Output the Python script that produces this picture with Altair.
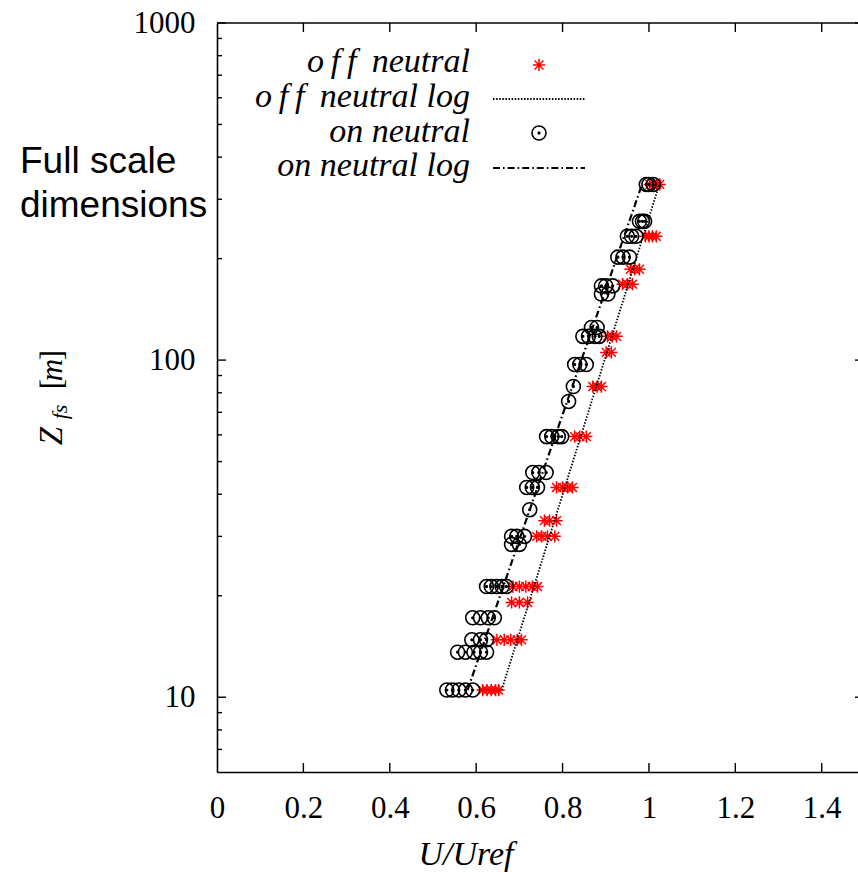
import altair as alt
import pandas as pd

# ---------------- data ----------------
off_heights = [332, 233, 186, 168, 117.6, 105.4, 83.5, 59.3, 41.9, 33.4, 30.0, 21.3, 19.1, 14.8, 10.5]
off_values = [
    [1.002, 1.010, 1.018, 1.025],
    [0.992, 1.000, 1.008, 1.017],
    [0.957, 0.967, 0.978],
    [0.939, 0.950, 0.962],
    [0.904, 0.915, 0.925],
    [0.901, 0.913],
    [0.870, 0.880, 0.890],
    [0.828, 0.840, 0.855],
    [0.786, 0.800, 0.812, 0.823],
    [0.758, 0.770, 0.786],
    [0.740, 0.752, 0.765, 0.782],
    [0.685, 0.700, 0.715, 0.730, 0.742],
    [0.682, 0.700, 0.719],
    [0.648, 0.665, 0.680, 0.695, 0.705],
    [0.615, 0.625, 0.635, 0.645, 0.652],
]

on_heights = [332, 258, 233, 202, 166, 157, 125, 117.6, 97, 83.5, 75.4, 59.3, 46.4, 41.9,
              36.0, 30.0, 28.4, 21.3, 17.2, 14.8, 13.6, 10.5]
on_values = [
    [0.994, 1.000, 1.010],
    [0.978, 0.985, 0.990],
    [0.950, 0.960, 0.970],
    [0.928, 0.940, 0.955],
    [0.890, 0.900, 0.916],
    [0.890, 0.905],
    [0.867, 0.880],
    [0.847, 0.860, 0.875, 0.885],
    [0.828, 0.840, 0.855],
    [0.825],
    [0.814],
    [0.763, 0.775, 0.790, 0.798],
    [0.731, 0.745, 0.762],
    [0.717, 0.730, 0.742],
    [0.724],
    [0.682, 0.694, 0.712],
    [0.682, 0.700],
    [0.624, 0.635, 0.648, 0.660, 0.670],
    [0.592, 0.610, 0.628, 0.642],
    [0.590, 0.610, 0.624],
    [0.557, 0.575, 0.595, 0.610, 0.624],
    [0.532, 0.545, 0.560, 0.575, 0.592],
]

off_log_u = [0.659, 1.024]
off_log_z = [10.5, 332]
on_log_u = [0.580, 0.984]
on_log_z = [10.5, 332]

x_tick_values = [0, 0.2, 0.4, 0.6, 0.8, 1, 1.2, 1.4]
y_label_values = [10, 100, 1000]
y_major_ticks = [10, 100, 1000]
y_minor_ticks = [7, 8, 9, 20, 30, 40, 50, 60, 70, 80, 90, 200, 300, 400, 500, 600, 700, 800, 900]

legend_labels = ["o\u2009f\u2009f\u2009 neutral", "o\u2009f\u2009f\u2009 neutral log",
                 "on neutral", "on neutral log"]
side_text = ["Full scale", "dimensions"]

# ---------------- build tables ----------------
def flatten(heights, values):
    rows = []
    for h, vals in zip(heights, values):
        for v in vals:
            rows.append({"u": v, "z": h})
    return pd.DataFrame(rows)

off_df = flatten(off_heights, off_values)
on_df = flatten(on_heights, on_values)
off_log_df = pd.DataFrame({"u": off_log_u, "z": off_log_z})
on_log_df = pd.DataFrame({"u": on_log_u, "z": on_log_z})
xt_df = pd.DataFrame({"u": x_tick_values[1:]})
ymaj_df = pd.DataFrame({"z": y_major_ticks})
ymin_df = pd.DataFrame({"z": y_minor_ticks})

# ---------------- styling ----------------
W, H = 641, 749
SERIF = "Liberation Serif"
SANS = "Liberation Sans"
STAR = "M-1,0L1,0M0,-1L0,1M-0.72,-0.72L0.72,0.72M-0.72,0.72L0.72,-0.72"
CIRC = ("M-1,0A1,1,0,1,1,1,0A1,1,0,1,1,-1,0Z"
        "M-0.12,0A0.12,0.12,0,1,1,0.12,0A0.12,0.12,0,1,1,-0.12,0Z")
DOT = [1.5, 1.6]
DASHDOT = [7, 3, 1.6, 3]

xs = alt.Scale(domain=[0, 1.484], nice=False, zero=False)
ys = alt.Scale(type="log", domain=[6.0, 1000], nice=False)

xaxis = alt.Axis(values=x_tick_values, format="~g", title=None, grid=False, ticks=False,
                 tickSize=0, domain=True, domainColor="black", domainWidth=1.6,
                 labelFont=SERIF, labelFontSize=31, labelColor="black",
                 labelBaseline="alphabetic", labelPadding=45, labelFlush=False,
                 labelOverlap=False)
yaxis = alt.Axis(values=y_label_values, format="d", title=None, grid=False, ticks=False,
                 tickSize=0, domain=True, domainColor="black", domainWidth=1.6,
                 labelFont=SERIF, labelFontSize=31, labelColor="black",
                 labelBaseline="middle", labelPadding=22, labelFlush=False,
                 labelOverlap=False)


def X():
    return alt.X("u:Q", scale=xs, axis=xaxis)


def Y():
    return alt.Y("z:Q", scale=ys, axis=yaxis)


layers = []

# frame: top border
one = pd.DataFrame({"a": [0]})
layers.append(alt.Chart(one).mark_rule(color="black", strokeWidth=1.6).encode(
    x=alt.value(0), x2=alt.value(W + 10), y=alt.value(0)))

# inward ticks
layers.append(alt.Chart(xt_df).mark_rule(color="black", strokeWidth=1.4).encode(
    x=X(), y=alt.value(H), y2=alt.value(H - 9)))
layers.append(alt.Chart(xt_df).mark_rule(color="black", strokeWidth=1.4).encode(
    x=X(), y=alt.value(0), y2=alt.value(9)))
layers.append(alt.Chart(ymaj_df).mark_rule(color="black", strokeWidth=1.4).encode(
    y=Y(), x=alt.value(0), x2=alt.value(9)))
layers.append(alt.Chart(ymin_df).mark_rule(color="black", strokeWidth=1.4).encode(
    y=Y(), x=alt.value(0), x2=alt.value(5)))
layers.append(alt.Chart(ymaj_df).mark_rule(color="black", strokeWidth=1.4).encode(
    y=Y(), x=alt.value(W - 3), x2=alt.value(W + 7)))

# data
layers.append(alt.Chart(off_df).mark_point(shape=STAR, size=150, filled=False, color="#ff0000",
                                           strokeWidth=1.5, opacity=1).encode(x=X(), y=Y()))
layers.append(alt.Chart(off_log_df).mark_line(color="black", strokeWidth=1.8,
                                              strokeDash=DOT).encode(x=X(), y=Y()))
layers.append(alt.Chart(on_df).mark_point(shape=CIRC, size=196, filled=False, color="black",
                                          strokeWidth=1.6, opacity=1).encode(x=X(), y=Y()))
layers.append(alt.Chart(on_log_df).mark_line(color="black", strokeWidth=2.2,
                                             strokeDash=DASHDOT).encode(x=X(), y=Y()))

# legend
leg_text_y = [49, 84, 119, 153]
for lab, ty in zip(legend_labels, leg_text_y):
    layers.append(alt.Chart(pd.DataFrame({"t": [lab]})).mark_text(
        font=SERIF, fontStyle="italic", fontSize=34, align="right", baseline="alphabetic",
        color="black").encode(text="t:N", x=alt.value(253), y=alt.value(ty)))
layers.append(alt.Chart(one).mark_point(shape=STAR, size=150, filled=False, color="#ff0000",
                                        strokeWidth=1.5, opacity=1).encode(
    x=alt.value(322), y=alt.value(42)))
layers.append(alt.Chart(one).mark_rule(color="black", strokeWidth=1.8, strokeDash=DOT).encode(
    x=alt.value(276), x2=alt.value(368), y=alt.value(76)))
layers.append(alt.Chart(one).mark_point(shape=CIRC, size=196, filled=False, color="black",
                                        strokeWidth=1.6, opacity=1).encode(
    x=alt.value(322), y=alt.value(110)))
layers.append(alt.Chart(one).mark_rule(color="black", strokeWidth=2.2, strokeDash=DASHDOT).encode(
    x=alt.value(276), x2=alt.value(368), y=alt.value(145)))

# axis titles
layers.append(alt.Chart(pd.DataFrame({"t": ["U/Uref"]})).mark_text(
    font=SERIF, fontStyle="italic", fontSize=34, align="center", baseline="alphabetic",
    color="black").encode(text="t:N", x=alt.value(249), y=alt.value(842)))


def rot(txt, x, y, size, style="italic"):
    return alt.Chart(pd.DataFrame({"t": [txt]})).mark_text(
        font=SERIF, fontStyle=style, fontSize=size, align="center", baseline="alphabetic",
        angle=270, color="black").encode(text="t:N", x=alt.value(x), y=alt.value(y))


layers.append(rot("Z", -155, 413, 33))
layers.append(rot("fs", -150, 389, 22))
layers.append(rot("[", -155, 361, 31, "normal"))
layers.append(rot("m", -155, 347, 31))
layers.append(rot("]", -155, 332, 31, "normal"))

# side annotation
for txt, ty in zip(side_text, [150, 194]):
    layers.append(alt.Chart(pd.DataFrame({"t": [txt]})).mark_text(
        font=SANS, fontSize=37, align="left", baseline="alphabetic", color="black").encode(
        text="t:N", x=alt.value(-197), y=alt.value(ty)))

chart = alt.layer(*layers).properties(
    width=W, height=H,
    padding={"left": 217, "top": 23, "right": 0, "bottom": 100},
    autosize=alt.AutoSizeParams(type="none"),
    background="white",
).configure_view(stroke=None)

chart.save("out.html", embed_options={"renderer": "svg", "actions": False})
